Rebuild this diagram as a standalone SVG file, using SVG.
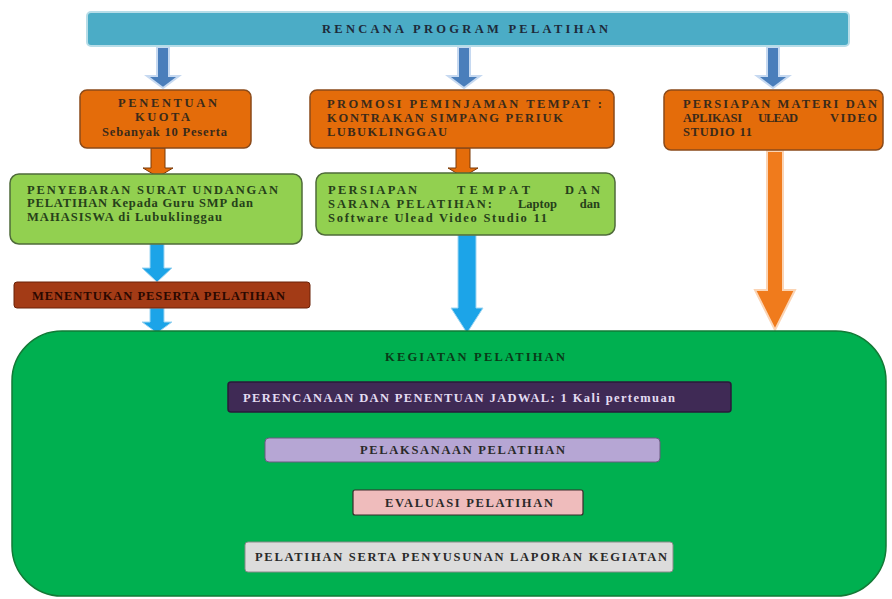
<svg xmlns="http://www.w3.org/2000/svg" width="892" height="599" viewBox="0 0 892 599">
<style>
text{font-family:"Liberation Serif","Times New Roman",serif;font-size:12.5px;font-weight:bold;fill:#2a2a2a}
.org{fill:#e46c0a;stroke:#8a4a1a;stroke-width:1.5}
.grn{fill:#92d050;stroke:#4f6b3a;stroke-width:1.5}
.ab{fill:#4a7ebb;stroke:#c6d9f1;stroke-width:2}
.ao{fill:#e46c0a;stroke:#7a3a08;stroke-width:1}
.ac{fill:#1ca4e8;stroke:#9fd6f2;stroke-width:1}
.gt{fill:#26401a}
.ot{fill:#3a2a1a}
</style>
<rect width="892" height="599" fill="#ffffff"/>

<g id="connectors">
  <polygon class="ab" points="157,47 169,47 169,76 179,76 163,88 147,76 157,76"/>
  <polygon class="ab" points="458,47 470,47 470,76 480,76 464,88 448,76 458,76"/>
  <polygon class="ab" points="767,47 779,47 779,76 789,76 773,88 757,76 767,76"/>
  <polygon class="ao" points="151,148 165,148 165,168 173,168 158,177 143,168 151,168"/>
  <polygon class="ao" points="456,148 470,148 470,168 478,168 463,177 448,168 456,168"/>
  <polygon class="ac" points="150,244 164,244 164,268 172,268 157,282 142,268 150,268"/>
  <polygon class="ac" points="150,308 164,308 164,322 172,322 157,333 142,322 150,322"/>
  <polygon class="ac" points="458,235 476,235 476,308 483,308 467,333 451,308 458,308"/>
  <polygon fill="#f07b1c" stroke="#fbd4b4" stroke-width="2" points="767,151 783,151 783,290 795,290 775,330 755,290 767,290"/>
  <polygon fill="#2e2040" points="458,412 469,412 469,426 474,426 463,437 452,426 458,426"/>
  <polygon fill="#d9b3c8" stroke="#9a8aa8" stroke-width="1" points="462,462 472,462 472,480 477,480 467,490 457,480 462,480"/>
  <polygon fill="#1f9a3f" stroke="#0b6a28" stroke-width="1" points="462,515 472,515 472,532 477,532 467,542 457,532 462,532"/>
</g>

<g id="n_top">
  <rect x="87" y="12" width="762" height="34" rx="4" fill="#4bacc6" stroke="#b7dde8" stroke-width="2"/>
  <text x="322" y="33" textLength="286" lengthAdjust="spacing" style="fill:#1e2a3a">RENCANA PROGRAM PELATIHAN</text>
</g>

<g id="n_kuota">
  <rect class="org" x="80" y="90" width="171" height="58" rx="7"/>
  <text class="ot" x="118" y="107" textLength="99" lengthAdjust="spacing">PENENTUAN</text>
  <text class="ot" x="135" y="121" textLength="55" lengthAdjust="spacing">KUOTA</text>
  <text class="ot" x="102" y="136" textLength="125" lengthAdjust="spacing">Sebanyak 10 Peserta</text>
</g>

<g id="n_promosi">
  <rect class="org" x="310" y="90" width="304" height="58" rx="7"/>
  <text class="ot" x="327" y="108" textLength="275" lengthAdjust="spacing">PROMOSI PEMINJAMAN TEMPAT :</text>
  <text class="ot" x="327" y="122" textLength="236" lengthAdjust="spacing">KONTRAKAN SIMPANG PERIUK</text>
  <text class="ot" x="327" y="136" textLength="120" lengthAdjust="spacing">LUBUKLINGGAU</text>
</g>

<g id="n_materi">
  <rect class="org" x="664" y="90" width="219" height="60" rx="7"/>
  <text class="ot" x="683" y="108" textLength="194" lengthAdjust="spacing">PERSIAPAN MATERI DAN</text>
  <text class="ot" x="683" y="122" textLength="59" lengthAdjust="spacing">APLIKASI</text>
  <text class="ot" x="758" y="122" textLength="40" lengthAdjust="spacing">ULEAD</text>
  <text class="ot" x="830" y="122" textLength="47" lengthAdjust="spacing">VIDEO</text>
  <text class="ot" x="683" y="136" textLength="69" lengthAdjust="spacing">STUDIO 11</text>
</g>

<g id="n_undangan">
  <rect class="grn" x="10" y="174" width="292" height="70" rx="9"/>
  <text class="gt" x="27" y="194" textLength="251" lengthAdjust="spacing">PENYEBARAN SURAT UNDANGAN</text>
  <text class="gt" x="27" y="207" textLength="226" lengthAdjust="spacing">PELATIHAN Kepada Guru SMP dan</text>
  <text class="gt" x="27" y="221" textLength="195" lengthAdjust="spacing">MAHASISWA di Lubuklinggau</text>
</g>

<g id="n_sarana">
  <rect class="grn" x="316" y="173" width="299" height="62" rx="9"/>
  <text class="gt" x="328" y="194" textLength="89" lengthAdjust="spacing">PERSIAPAN</text>
  <text class="gt" x="457" y="194" textLength="73" lengthAdjust="spacing">TEMPAT</text>
  <text class="gt" x="565" y="194" textLength="35" lengthAdjust="spacing">DAN</text>
  <text class="gt" x="328" y="208" textLength="164" lengthAdjust="spacing">SARANA PELATIHAN:</text>
  <text class="gt" x="518" y="208">Laptop</text>
  <text class="gt" x="600" y="208" style="text-anchor:end">dan</text>
  <text class="gt" x="328" y="222" textLength="219" lengthAdjust="spacing">Software Ulead Video Studio 11</text>
</g>

<g id="n_peserta">
  <rect x="14" y="282" width="296" height="26" rx="3" fill="#a33b16" stroke="#6a2208" stroke-width="1"/>
  <text x="32" y="300" style="fill:#2a0800" textLength="253" lengthAdjust="spacing">MENENTUKAN PESERTA PELATIHAN</text>
</g>

<g id="n_kegiatan">
  <rect x="12" y="331" width="874" height="265" rx="50" fill="#00b050" stroke="#127a36" stroke-width="1.5"/>
  <text x="385" y="361" style="fill:#0a3a18" textLength="180" lengthAdjust="spacing">KEGIATAN PELATIHAN</text>
</g>

<g id="n_jadwal">
  <rect x="228" y="382" width="503" height="30" rx="3" fill="#3f2a55" stroke="#2a1a3a" stroke-width="1.5"/>
  <text x="243" y="402" style="fill:#e4dcf2" textLength="432" lengthAdjust="spacing">PERENCANAAN DAN PENENTUAN JADWAL: 1 Kali pertemuan</text>
</g>

<g id="n_pelaksanaan">
  <rect x="265" y="438" width="395" height="24" rx="4" fill="#b6a6d4" stroke="#6a5a80" stroke-width="1"/>
  <text x="360" y="454" textLength="205" lengthAdjust="spacing">PELAKSANAAN PELATIHAN</text>
</g>

<g id="n_evaluasi">
  <rect x="353" y="490" width="230" height="25" rx="2" fill="#efbcbc" stroke="#3a2a2a" stroke-width="1.2"/>
  <text x="385" y="507" textLength="168" lengthAdjust="spacing">EVALUASI PELATIHAN</text>
</g>

<g id="n_laporan">
  <rect x="245" y="542" width="428" height="30" rx="3" fill="#dcdcdc" stroke="#8a8a8a" stroke-width="1"/>
  <text x="255" y="561" textLength="412" lengthAdjust="spacing">PELATIHAN SERTA PENYUSUNAN LAPORAN KEGIATAN</text>
</g>
</svg>
